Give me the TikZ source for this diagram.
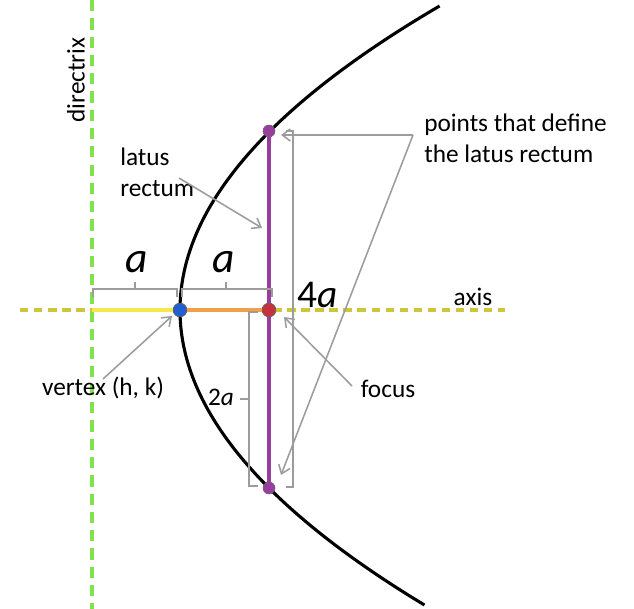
\documentclass[tikz,border=0pt]{standalone}
\usepackage{fontspec}
\setmainfont{Carlito}
\usetikzlibrary{positioning, arrows.meta}
\definecolor{dirgreen}{HTML}{80E24C}
\definecolor{axisyellow}{HTML}{CFC53C}
\definecolor{segyellow}{HTML}{F6E84A}
\definecolor{segorange}{HTML}{F0A048}
\definecolor{lrpurple}{HTML}{9A3E9E}
\definecolor{vblue}{HTML}{2060D0}
\definecolor{fred}{HTML}{C8323C}
\definecolor{brgray}{HTML}{9C9C9C}
\tikzstyle{every node}=[font=\fontsize{18}{21.5}\selectfont]
\tikzstyle{dot}=[circle, draw=black!60, line width=0.4pt, inner sep=0pt, minimum size=0.34cm]
\tikzstyle{bracket}=[draw=brgray, line width=1.1pt]
\tikzstyle{pointer}=[draw=brgray, line width=1.1pt, ->]
\tikzstyle{bigvar}=[font=\fontsize{31}{31}\selectfont\itshape]

\begin{document}
\begin{tikzpicture}[x=0.025cm, y=-0.025cm, >={Straight Barb[length=0.2cm, width=0.3cm]}]
            \useasboundingbox (0,0) rectangle (634,609);
            % directrix and axis
            \draw[dirgreen, line width=2.2pt, dash pattern=on 8pt off 5pt] (92,0) -- (92,609);
            \draw[axisyellow, line width=2.2pt, dash pattern=on 6pt off 4pt] (20,310) -- (505,310);
            \coordinate (d) at (92,310);
            \node[dot, fill=vblue] (v) at (180,310) {};
            \node[dot, fill=fred] (f) at (269,310) {};
            \draw[segyellow, line width=2.2pt] (d) -- (v);
            \draw[segorange, line width=2.2pt] (v) -- (f);
            % parabola
            \draw[line width=2.2pt] plot[domain=-30.4:29.5, samples=80, smooth] ({180+\x*\x/3.56}, {310+10*\x});
            % latus rectum
            \node[dot, fill=lrpurple, minimum size=0.3cm] (top) at (269,131) {};
            \node[dot, fill=lrpurple, minimum size=0.3cm] (bot) at (269,488) {};
            \draw[lrpurple, line width=2.2pt] (top) -- (bot);
            \node[dot, fill=fred] at (f) {};
            \node[dot, fill=vblue] at (v) {};
            % brackets
            \draw[bracket] (93,297) -- (93,289) -- (177,289) -- (177,297);
            \draw[bracket] (135,289) -- (135,282);
            \draw[bracket] (182,297) -- (182,289) -- (272,289) -- (272,297);
            \draw[bracket] (226,289) -- (226,282);
            \draw[bracket] (286,131) -- (293,131) -- (293,487) -- (286,487);
            \draw[bracket] (258,312) -- (249,312) -- (249,486) -- (258,486);
            \draw[bracket] (249,399) -- (240,399);
            \node[bigvar] (a1) at (137,262) {a};
            \node[bigvar] (a2) at (224,262) {a};
            \node[font=\fontsize{28}{28}\selectfont] (four) at (318,295) {4\textit{a}};
            \node (two) at (221,397) {2\textit{a}};
            % labels
            \node (axis) at (473,297) {axis};
            \node[rotate=90] (dir) at (76,80) {directrix};
            \node[align=left, anchor=north west, inner sep=0pt] (lr) at (120,148) {latus\\rectum};
            \node[align=left, anchor=north west, inner sep=0pt] (pts) at (424,114) {points that define\\the latus rectum};
            \node (vtx) at (103,388) {vertex (h, k)};
            \node (foc) at (388,389) {focus};
            % pointers
            \coordinate (corner) at (413,135);
            \coordinate (toptip) at (281,135);
            \coordinate (bottip) at (281,475);
            \coordinate (lrs) at (179,178);
            \coordinate (lrtip) at (262,228);
            \coordinate (vs) at (103,379);
            \coordinate (vtip) at (172,316);
            \coordinate (fs) at (352,386);
            \coordinate (ftip) at (284,317);
            \draw[pointer] (corner) -- (toptip);
            \draw[pointer] (corner) -- (bottip);
            \draw[pointer] (lrs) -- (lrtip);
            \draw[pointer] (vs) -- (vtip);
            \draw[pointer] (fs) -- (ftip);
        \end{tikzpicture}
\end{document}
